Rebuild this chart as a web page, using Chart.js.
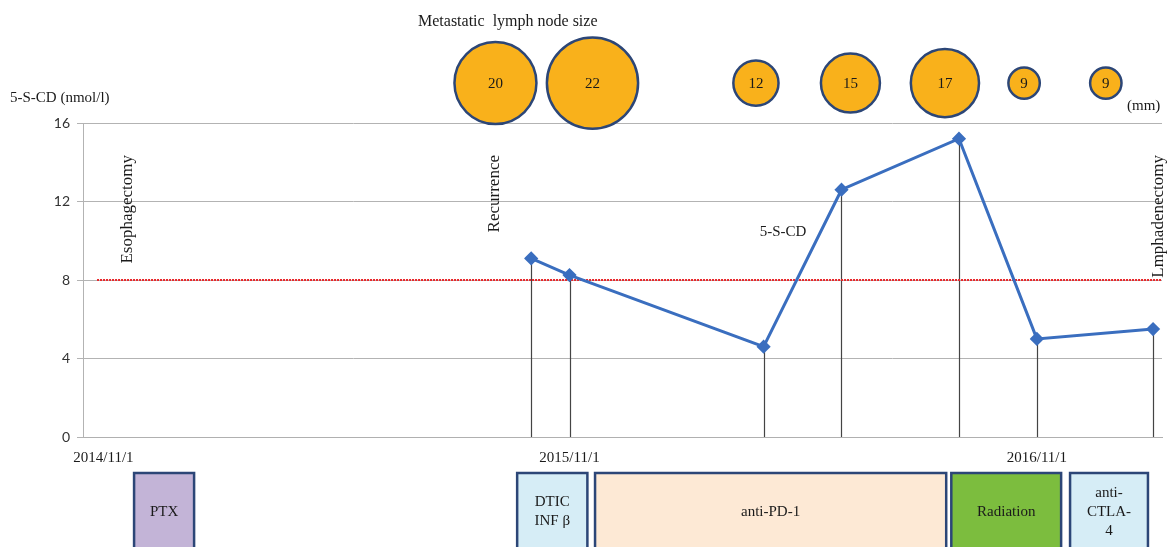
<!DOCTYPE html>
<html>
<head>
<meta charset="utf-8">
<script src="https://cdn.jsdelivr.net/npm/chart.js@4.4.1/dist/chart.umd.min.js"></script>
<style>
  body { margin: 0; background: #fff; }
  canvas { display: block; }
</style>
</head>
<body>
<canvas id="myChart" width="1167" height="547"></canvas>
<script>
// 5-S-CD measurements
const sampleDates = ['2015/10/2', '2015/11/1', '2016/4/1', '2016/6/1', '2016/9/1', '2016/11/1', '2017/1/31'];
const sampleValues = [9.1, 8.25, 4.6, 12.6, 15.2, 5.0, 5.5];
const cutoff = 8;

// lymph node size (mm)
const nodeDates = ['2015/9/4', '2015/11/19', '2016/3/26', '2016/6/8', '2016/8/21', '2016/10/22', '2016/12/25'];
const nodeSizes = [20, 22, 12, 15, 17, 9, 9];

// x axis ticks
const xTickLabels = ['2014/11/1', '2015/11/1', '2016/11/1'];
const yTicks = [0, 4, 8, 12, 16];

// events and treatments
const eventNames = ['Esophagectomy', 'Recurrence', 'Lmphadenectomy'];
const eventDates = ['2014/11/20', '2015/9/3', '2017/2/4'];
const treatNames = ['PTX', 'DTIC\nINF β', 'anti-PD-1', 'Radiation', 'anti-\nCTLA-\n4'];
const treatStart = ['2014/11/25', '2015/9/21', '2015/11/21', '2016/8/26', '2016/11/27'];
const treatEnd = ['2015/1/11', '2015/11/15', '2016/8/22', '2016/11/20', '2017/1/27'];
const treatColors = ['#c3b4d7', '#d6edf6', '#fde9d5', '#7cbd3e', '#d6edf6'];

const serif = '"Liberation Serif", "Times New Roman", serif';

// days since 2014/11/1
function dayOf(s) {
    const p = s.split('/').map(Number);
    return (Date.UTC(p[0], p[1] - 1, p[2]) - Date.UTC(2014, 10, 1)) / 86400000;
}

const xMin = -16;
const xMax = 829;

const lineData = sampleDates.map((d, i) => ({ x: dayOf(d), y: sampleValues[i] }));
const bubbleData = nodeDates.map((d, i) => ({ x: dayOf(d), y: 1.127, r: 2.3 * nodeSizes[i] - 5 }));

const extras = {
    id: 'extras',
    beforeDatasetsDraw(chart) {
        const ctx = chart.ctx;
        const x = chart.scales.x, y = chart.scales.y;
        ctx.save();
        ctx.strokeStyle = '#444';
        ctx.lineWidth = 1.2;
        sampleDates.forEach((d, i) => {
            const px = Math.round(x.getPixelForValue(dayOf(d))) + 0.5;
            ctx.beginPath();
            ctx.moveTo(px, y.getPixelForValue(sampleValues[i]));
            ctx.lineTo(px, y.getPixelForValue(0));
            ctx.stroke();
        });
        ctx.restore();
    },
    // bubbles sit above the plot area, draw them without the area check
    beforeDatasetDraw(chart, args) {
        if (args.index === 2) return false;
    },
    afterDatasetsDraw(chart) {
        const whole = { left: 0, top: 0, right: chart.width, bottom: chart.height };
        chart.getDatasetMeta(2).data.forEach(el => el.draw(chart.ctx, whole));
    },
    afterDraw(chart) {
        const ctx = chart.ctx;
        const x = chart.scales.x;
        ctx.save();
        ctx.fillStyle = '#1a1a1a';
        ctx.textBaseline = 'middle';

        // titles
        ctx.font = '16px ' + serif;
        ctx.textAlign = 'left';
        ctx.fillText('Metastatic  lymph node size', 418, 22);
        ctx.font = '15px ' + serif;
        ctx.fillText('5-S-CD (nmol/l)', 10, 98);
        ctx.fillText('(mm)', 1127, 106);
        ctx.textAlign = 'center';
        ctx.fillText('5-S-CD', 783, 232);

        // bubble labels
        ctx.font = '15px ' + serif;
        chart.getDatasetMeta(2).data.forEach((el, i) => {
            ctx.fillText(String(nodeSizes[i]), el.x, el.y + 1);
        });

        // event labels, vertical
        ctx.font = '17px ' + serif;
        eventNames.forEach((name, i) => {
            ctx.save();
            ctx.translate(x.getPixelForValue(dayOf(eventDates[i])), 155);
            ctx.rotate(-Math.PI / 2);
            ctx.textAlign = 'right';
            ctx.fillText(name, 0, 0);
            ctx.restore();
        });

        // treatment boxes
        ctx.font = '15px ' + serif;
        treatNames.forEach((name, i) => {
            const x0 = x.getPixelForValue(dayOf(treatStart[i]));
            const x1 = x.getPixelForValue(dayOf(treatEnd[i]));
            ctx.fillStyle = treatColors[i];
            ctx.fillRect(x0, 473, x1 - x0, 90);
            ctx.strokeStyle = '#2c4677';
            ctx.lineWidth = 2.5;
            ctx.strokeRect(x0, 473, x1 - x0, 90);
            ctx.fillStyle = '#1a1a1a';
            const lines = name.split('\n');
            lines.forEach((ln, k) => {
                ctx.fillText(ln, (x0 + x1) / 2, 512 + (k - (lines.length - 1) / 2) * 19);
            });
        });
        ctx.restore();
    }
};

const ctx = document.getElementById('myChart').getContext('2d');
new Chart(ctx, {
    type: 'line',
    data: {
        datasets: [{
            label: '5-S-CD',
            data: lineData,
            borderColor: '#3a6ebf',
            backgroundColor: '#3a6ebf',
            borderWidth: 3,
            pointStyle: 'rectRot',
            pointRadius: 5,
            tension: 0
        }, {
            label: 'cutoff',
            data: [{ x: -5, y: cutoff }, { x: xMax, y: cutoff }],
            borderColor: '#e8262a',
            borderWidth: 2,
            borderDash: [2, 1],
            pointRadius: 0
        }, {
            type: 'bubble',
            label: 'node',
            data: bubbleData,
            yAxisID: 'yb',
            backgroundColor: '#f9b11b',
            borderColor: '#2c4677',
            borderWidth: 2.5,
            clip: false
        }]
    },
    options: {
        responsive: false,
        animation: false,
        events: [],
        layout: {
            autoPadding: false,
            padding: { top: 123, right: 5, left: 0, bottom: 0 }
        },
        plugins: {
            legend: { display: false },
            tooltip: { enabled: false }
        },
        scales: {
            x: {
                type: 'linear',
                min: xMin,
                max: xMax,
                afterBuildTicks: function(scale) {
                    scale.ticks = xTickLabels.map(t => ({ value: dayOf(t) }));
                },
                afterFit: function(scale) { scale.height = 110; },
                ticks: {
                    autoSkip: false,
                    maxRotation: 0,
                    padding: 12,
                    color: '#1a1a1a',
                    font: { family: serif, size: 15 },
                    callback: function(value) {
                        const idx = xTickLabels.findIndex(t => dayOf(t) === value);
                        return idx >= 0 ? xTickLabels[idx] : '';
                    }
                },
                grid: { display: false, drawTicks: false },
                border: { display: true, color: '#b0b0b0' }
            },
            y: {
                min: 0,
                max: 16,
                afterBuildTicks: function(scale) {
                    scale.ticks = yTicks.map(v => ({ value: v }));
                },
                afterFit: function(scale) { scale.width = 83; },
                ticks: {
                    padding: 7,
                    color: '#333',
                    font: { family: 'Lato', size: 14 }
                },
                grid: { color: '#b3b3b3', tickLength: 6 },
                border: { color: '#b3b3b3' }
            },
            yb: {
                display: false,
                min: 0,
                max: 1
            }
        }
    },
    plugins: [extras]
});
</script>
</body>
</html>
